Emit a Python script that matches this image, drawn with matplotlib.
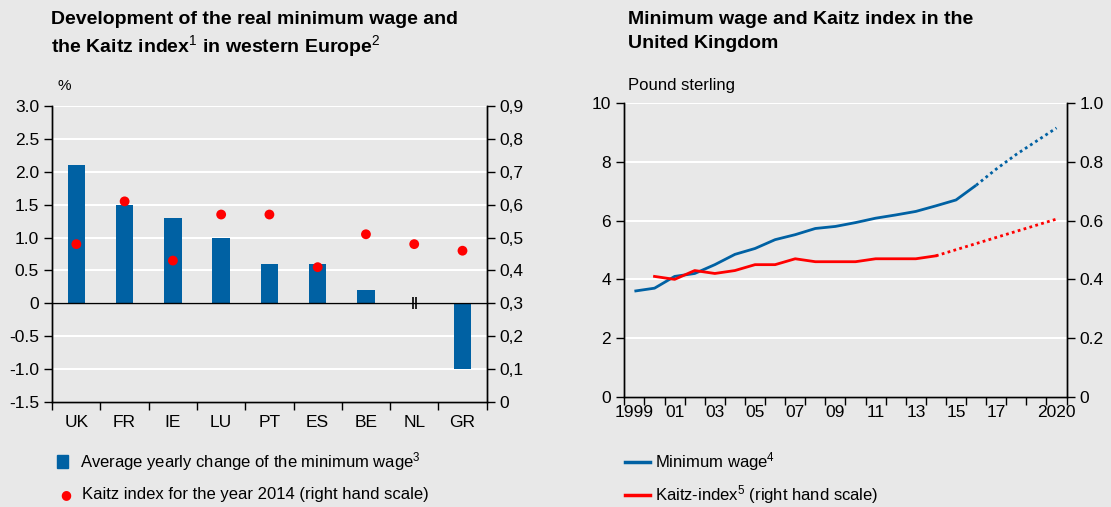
import numpy as np
import matplotlib
matplotlib.use('Agg')
import matplotlib.pyplot as plt

# Data
countries = ['UK', 'FR', 'IE', 'LU', 'PT', 'ES', 'BE', 'NL', 'GR']
wage_change = [2.1, 1.5, 1.3, 1.0, 0.6, 0.6, 0.2, np.nan, -1.0]
kaitz_2014 = [0.48, 0.61, 0.43, 0.57, 0.57, 0.41, 0.51, 0.48, 0.46]

years = list(range(1999, 2017))
uk_min_wage = [3.6, 3.7, 4.1, 4.2, 4.5, 4.85, 5.05, 5.35, 5.52, 5.73, 5.8, 5.93,
               6.08, 6.19, 6.31, 6.5, 6.7, 7.2]
proj_years = [2016, 2017, 2018, 2019, 2020]
uk_min_wage_proj = [7.2, 7.75, 8.25, 8.7, 9.15]

kaitz_years = list(range(2000, 2015))
uk_kaitz = [0.41, 0.40, 0.43, 0.42, 0.43, 0.45, 0.45, 0.47, 0.46, 0.46, 0.46,
            0.47, 0.47, 0.47, 0.48]
kaitz_proj_years = [2014, 2020]
uk_kaitz_proj = [0.48, 0.605]

year_labels = {1999: '1999', 2001: '01', 2003: '03', 2005: '05', 2007: '07', 2009: '09',
               2011: '11', 2013: '13', 2015: '15', 2017: '17', 2020: '2020'}

BLUE = '#0061a3'
RED = '#ff0000'
BG = '#e8e8e8'
TS = 12.5  # tick label size

plt.rcParams['font.family'] = ['Liberation Sans', 'DejaVu Sans']
plt.rcParams['mathtext.fontset'] = 'custom'
plt.rcParams['mathtext.rm'] = 'Liberation Sans'
plt.rcParams['mathtext.it'] = 'Liberation Sans'
plt.rcParams['mathtext.bf'] = 'Liberation Sans:bold'
plt.rcParams['axes.linewidth'] = 1.0

fig = plt.figure(figsize=(11.11, 5.07), dpi=100, facecolor=BG)

# ---------- left chart ----------
ax = fig.add_axes([0.047, 0.207, 0.391, 0.584], facecolor=BG)
x = np.arange(len(countries))
ax.bar(x, wage_change, width=0.36, color=BLUE, zorder=3)
ax.set_xlim(-0.5, len(countries) - 0.5)
ax.set_ylim(-1.5, 3.0)
ax.set_yticks(np.arange(-1.5, 3.01, 0.5))
ax.set_yticklabels(['-1.5', '-1.0', '-0.5', '0', '0.5', '1.0', '1.5', '2.0', '2.5', '3.0'])
ax.set_xticks(np.arange(-0.5, len(countries), 1))
ax.set_xticklabels([])
ax.set_xticks(x, minor=True)
ax.set_xticklabels(countries, minor=True)
ax.tick_params(axis='x', which='major', length=6, width=1)
ax.tick_params(axis='x', which='minor', length=0, pad=9, labelsize=TS)
ax.tick_params(axis='y', length=6, width=1, labelsize=TS)
ax.grid(axis='y', color='white', lw=1.5, zorder=0)
ax.axhline(0, color='black', lw=1, zorder=4)
nl = countries.index('NL')
ax.plot([nl - 0.03, nl + 0.03], [0, 0], ls='none', marker='|', ms=9, mew=1.2,
        color='black', zorder=5)
ax.spines['top'].set_visible(False)

ax2 = ax.twinx()
ax2.scatter(x, kaitz_2014, s=50, color=RED, zorder=5, edgecolors='none')
ax2.set_ylim(0, 0.9)
ticks2 = np.arange(0, 0.91, 0.1)
ax2.set_yticks(ticks2)
ax2.set_yticklabels(['0'] + [f'{t:.1f}'.replace('.', ',') for t in ticks2[1:]])
ax2.tick_params(axis='y', length=6, width=1, labelsize=TS)
ax2.spines['top'].set_visible(False)

fig.text(0.046, 0.978, 'Development of the real minimum wage and\nthe Kaitz index$^1$ in western Europe$^2$',
         fontsize=14, fontweight='bold', va='top', linespacing=1.25)
fig.text(0.052, 0.822, '%', fontsize=11)

# legend left
fig.patches.append(plt.Rectangle((0.0515, 0.077), 0.0095, 0.026, color=BLUE,
                                 transform=fig.transFigure))
fig.text(0.072, 0.090, 'Average yearly change of the minimum wage$^3$', fontsize=12, va='center')
fig.text(0.054, 0.024, '●', color=RED, fontsize=9, va='center', family='DejaVu Sans')
fig.text(0.074, 0.024, 'Kaitz index for the year 2014 (right hand scale)', fontsize=12, va='center')

# ---------- right chart ----------
bx = fig.add_axes([0.562, 0.217, 0.398, 0.580], facecolor=BG)
bx.plot(years, uk_min_wage, color=BLUE, lw=2, zorder=4, solid_capstyle='butt')
bx.plot(proj_years, uk_min_wage_proj, color=BLUE, lw=2, ls=(0, (1, 1.2)), zorder=4)
bx.set_xlim(1998.5, 2020.5)
bx.set_ylim(0, 10)
bx.set_yticks(range(0, 11, 2))
bx.set_xticks(np.arange(1998.5, 2020.6, 1))
bx.set_xticklabels([])
bx.set_xticks(list(year_labels.keys()), minor=True)
bx.set_xticklabels(list(year_labels.values()), minor=True)
bx.tick_params(axis='x', which='major', length=6, width=1)
bx.tick_params(axis='x', which='minor', length=0, pad=6, labelsize=TS)
bx.tick_params(axis='y', length=6, width=1, labelsize=TS)
bx.grid(axis='y', color='white', lw=1.5, zorder=0)
bx.spines['top'].set_visible(False)

bx2 = bx.twinx()
bx2.plot(kaitz_years, uk_kaitz, color=RED, lw=2, zorder=4)
bx2.plot(kaitz_proj_years, uk_kaitz_proj, color=RED, lw=2, ls=(0, (1, 1.2)), zorder=4)
bx2.set_ylim(0, 1.0)
bx2.set_yticks(np.arange(0, 1.01, 0.2))
bx2.set_yticklabels(['0', '0.2', '0.4', '0.6', '0.8', '1.0'])
bx2.tick_params(axis='y', length=6, width=1, labelsize=TS)
bx2.spines['top'].set_visible(False)

fig.text(0.565, 0.978, 'Minimum wage and Kaitz index in the\nUnited Kingdom',
         fontsize=14, fontweight='bold', va='top', linespacing=1.55)
fig.text(0.565, 0.823, 'Pound sterling', fontsize=12)

# legend right
fig.lines.append(plt.Line2D([0.563, 0.585], [0.089, 0.089], color=BLUE, lw=2.5,
                            transform=fig.transFigure))
fig.text(0.590, 0.090, 'Minimum wage$^4$', fontsize=12, va='center')
fig.lines.append(plt.Line2D([0.563, 0.585], [0.024, 0.024], color=RED, lw=2.5,
                            transform=fig.transFigure))
fig.text(0.590, 0.025, 'Kaitz-index$^5$ (right hand scale)', fontsize=12, va='center')

fig.savefig('out.png', dpi=100, facecolor=BG)
